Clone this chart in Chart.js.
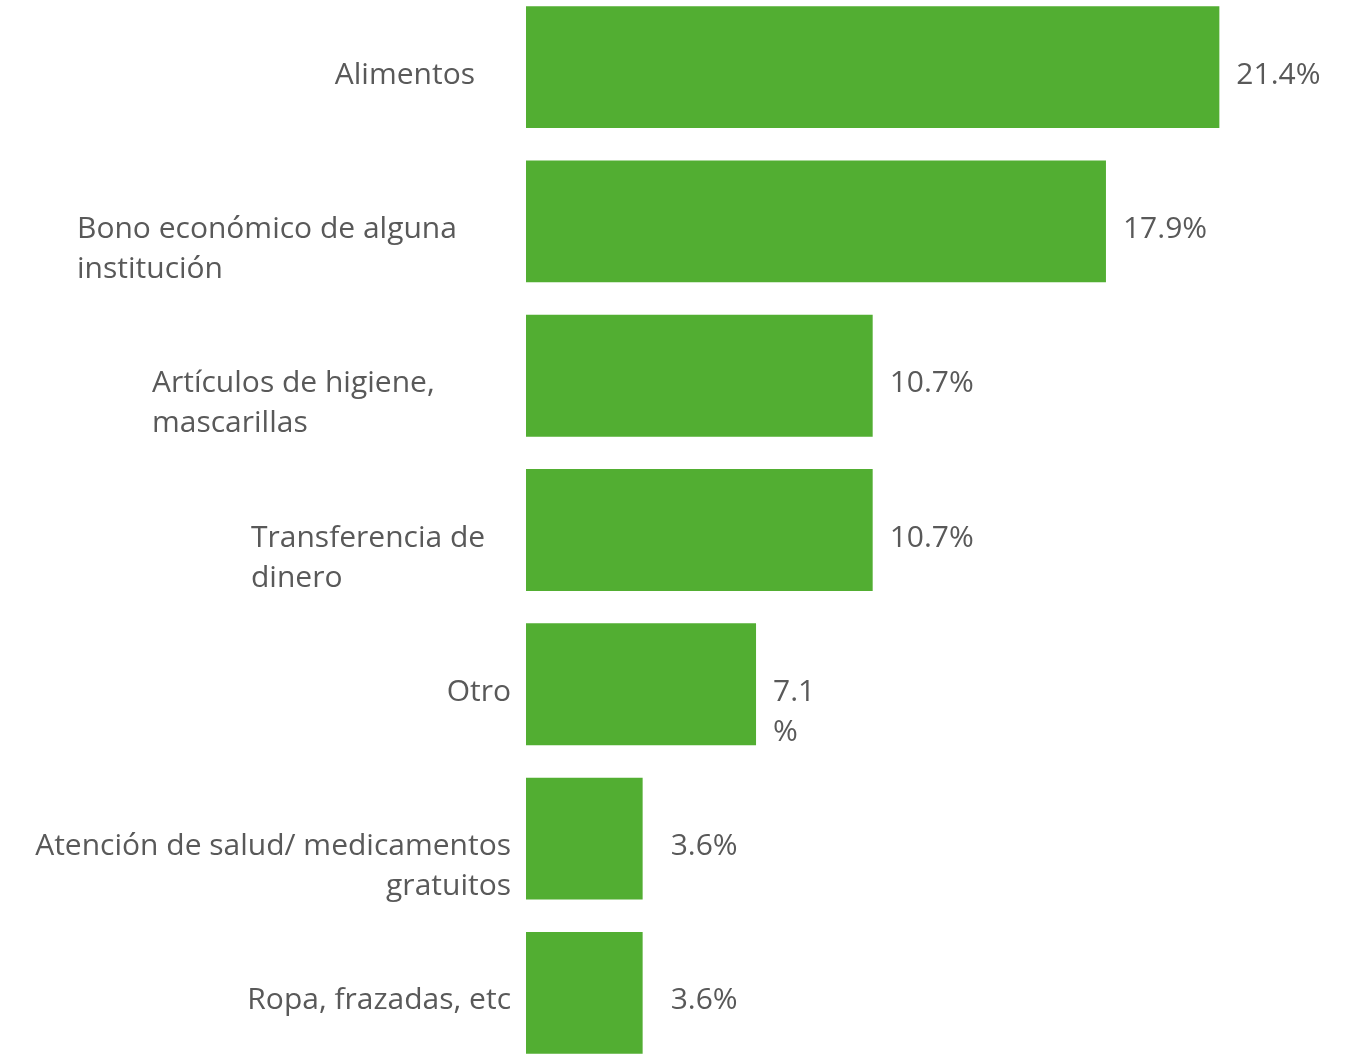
<!DOCTYPE html>
<html lang="es">
<head>
    <meta charset="UTF-8">
    <title>Tipo de ayuda recibida</title>
    <style>
        html, body {
            margin: 0;
            padding: 0;
            background: #ffffff;
            overflow: hidden;
        }
        #wrap {
            position: absolute;
            left: 0;
            top: -10px;
            width: 1349px;
            height: 1080px;
        }
    </style>
    <script src="https://cdn.jsdelivr.net/npm/chart.js"></script>
</head>
<body>
    <div id="wrap">
        <canvas id="helpChart"></canvas>
    </div>

    <script>
        // data
        const categories = [
            ['Alimentos'],
            ['Bono económico de alguna', 'institución'],
            ['Artículos de higiene,', 'mascarillas'],
            ['Transferencia de', 'dinero'],
            ['Otro'],
            ['Atención de salud/ medicamentos', 'gratuitos'],
            ['Ropa, frazadas, etc']
        ];
        const values = [21.4, 17.9, 10.7, 10.7, 7.1, 3.6, 3.6];
        const valueLabels = [['21.4%'], ['17.9%'], ['10.7%'], ['10.7%'], ['7.1', '%'], ['3.6%'], ['3.6%']];

        const GREEN = '#52ae32';
        const TEXT = '#595959';
        const FONT = '30px "Open Sans", "Noto Sans", sans-serif';
        const LINE_H = 40;
        const TEXT_DROP = 8; // text boxes sit a touch below the bar centre

        // where each category text box sits (like the slide's text boxes)
        const labelBoxes = [
            { align: 'right', x: 475 },
            { align: 'left', x: 77 },
            { align: 'left', x: 152 },
            { align: 'left', x: 251 },
            { align: 'right', x: 511 },
            { align: 'right', x: 511 },
            { align: 'right', x: 511 }
        ];

        const textPlugin = {
            id: 'textPlugin',
            afterDatasetsDraw(chart) {
                const c = chart.ctx;
                const yScale = chart.scales.y;
                const meta = chart.getDatasetMeta(0);
                c.save();
                c.font = FONT;
                c.fillStyle = TEXT;
                c.textBaseline = 'middle';
                categories.forEach((lines, i) => {
                    const cy = yScale.getPixelForValue(i) + TEXT_DROP;
                    const box = labelBoxes[i];
                    c.textAlign = box.align;
                    lines.forEach((ln, k) => c.fillText(ln, box.x, cy + k * LINE_H));
                });
                c.textAlign = 'left';
                meta.data.forEach((bar, i) => {
                    const gap = values[i] < 5 ? 28 : 17;
                    valueLabels[i].forEach((ln, k) =>
                        c.fillText(ln, bar.x + gap, bar.y + TEXT_DROP + k * LINE_H));
                });
                c.restore();
            }
        };

        new Chart(document.getElementById('helpChart'), {
            type: 'bar',
            data: {
                labels: categories,
                datasets: [{
                    data: values,
                    backgroundColor: GREEN,
                    borderWidth: 0,
                    barPercentage: 0.79,
                    categoryPercentage: 1
                }]
            },
            options: {
                indexAxis: 'y',
                responsive: true,
                maintainAspectRatio: false,
                animation: false,
                layout: { padding: { left: 526, right: 13, top: 0, bottom: 0 } },
                plugins: {
                    legend: { display: false },
                    tooltip: { enabled: false }
                },
                scales: {
                    x: { display: false, min: 0, max: 25 },
                    y: { display: false }
                }
            },
            plugins: [textPlugin]
        });
    </script>
</body>
</html>
